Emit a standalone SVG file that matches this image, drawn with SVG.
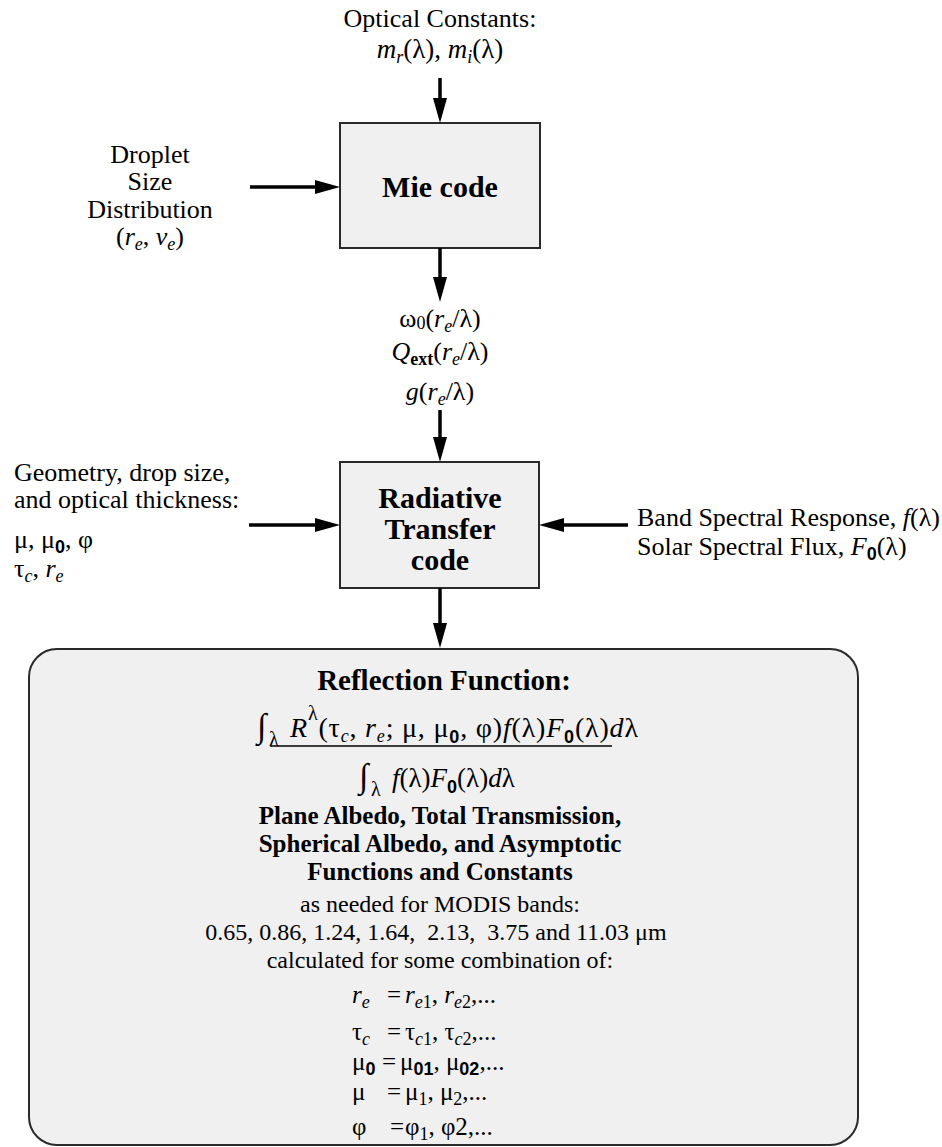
<svg xmlns="http://www.w3.org/2000/svg" width="942" height="1147" viewBox="0 0 942 1147">
<defs>
<style>
text{font-family:"Liberation Serif","Times New Roman",serif;fill:#000;font-size:26px}
.c{text-anchor:middle}
.b{font-weight:bold}
.i{font-style:italic}
.s{font-size:18px}
.sb{font-size:18px;font-weight:bold;font-family:"Liberation Sans",Arial,sans-serif}
.box{fill:#f0f0f0;stroke:#2a2a2a;stroke-width:2}
.conn line{stroke:#000;stroke-width:3.5;marker-end:url(#ah)}
</style>
<marker id="ah" markerUnits="userSpaceOnUse" markerWidth="26" markerHeight="16" refX="13" refY="7" orient="auto">
<path d="M0,0 L25,7 L0,14 z" fill="#000"/>
</marker>
</defs>
<rect width="942" height="1147" fill="#fff"/>

<g id="optical-constants">
<text class="c" x="440" y="27">Optical Constants:</text>
<text class="c" x="440" y="58" style="font-size:27px"><tspan class="i">m</tspan><tspan class="i s" dy="5">r</tspan><tspan dy="-5">(λ), </tspan><tspan class="i">m</tspan><tspan class="i s" dy="5">i</tspan><tspan dy="-5">(λ)</tspan></text>
</g>

<g id="droplet">
<text class="c" x="150" y="163">Droplet</text>
<text class="c" x="150" y="190">Size</text>
<text class="c" x="150" y="218">Distribution</text>
<text class="c" x="150" y="245">(<tspan class="i">r</tspan><tspan class="i s" dy="5">e</tspan><tspan dy="-5">, </tspan><tspan class="i">v</tspan><tspan class="i s" dy="5">e</tspan><tspan dy="-5">)</tspan></text>
</g>

<g id="mie">
<rect class="box" x="340" y="123" width="200" height="125"/>
<text class="c b" x="440" y="197" style="font-size:30px">Mie code</text>
</g>

<g id="mie-output">
<text class="c" x="440" y="327">ω<tspan class="s" dy="2">0</tspan><tspan dy="-2">(</tspan><tspan class="i">r</tspan><tspan class="i s" dy="5">e</tspan><tspan dy="-5">/λ)</tspan></text>
<text class="c" x="440" y="360"><tspan class="i">Q</tspan><tspan class="b s" dy="5">ext</tspan><tspan dy="-5">(</tspan><tspan class="i">r</tspan><tspan class="i s" dy="5">e</tspan><tspan dy="-5">/λ)</tspan></text>
<text class="c" x="440" y="400"><tspan class="i">g</tspan>(<tspan class="i">r</tspan><tspan class="i s" dy="5">e</tspan><tspan dy="-5">/λ)</tspan></text>
</g>

<g id="geometry">
<text x="14" y="481">Geometry, drop size,</text>
<text x="14" y="508">and optical thickness:</text>
<text x="14" y="548">μ, μ<tspan class="sb" dy="5">0</tspan><tspan dy="-5">, φ</tspan></text>
<text x="14" y="577">τ<tspan class="i s" dy="5">c</tspan><tspan dy="-5">, </tspan><tspan class="i">r</tspan><tspan class="i s" dy="5">e</tspan></text>
</g>

<g id="radiative-transfer">
<rect class="box" x="340" y="462" width="199" height="126"/>
<text class="c b" x="440" y="508" style="font-size:30px">Radiative</text>
<text class="c b" x="440" y="539" style="font-size:30px">Transfer</text>
<text class="c b" x="440" y="570" style="font-size:30px">code</text>
</g>

<g id="spectral">
<text x="637" y="526">Band Spectral Response, <tspan class="i">f</tspan>(λ)</text>
<text x="637" y="555">Solar Spectral Flux, <tspan class="i">F</tspan><tspan class="sb" dy="5">0</tspan><tspan dy="-5">(λ)</tspan></text>
</g>

<g id="results">
<rect class="box" x="29" y="649" width="829" height="496" rx="28" ry="28"/>
<text class="c b" x="444" y="690" style="font-size:29px">Reflection Function:</text>
<text x="257" y="737" style="font-size:34px">∫</text>
<text x="269" y="746" style="font-size:20px">λ</text>
<text x="290" y="737" style="font-size:28px" textLength="348" lengthAdjust="spacing"><tspan class="i">R</tspan><tspan style="font-size:20px" dy="-17">λ</tspan><tspan dy="17">(τ</tspan><tspan class="i s" dy="5">c</tspan><tspan dy="-5">, </tspan><tspan class="i">r</tspan><tspan class="i s" dy="5">e</tspan><tspan dy="-5">; μ, μ</tspan><tspan class="sb" dy="6">0</tspan><tspan dy="-6">, φ)</tspan><tspan class="i">f</tspan>(λ)<tspan class="i">F</tspan><tspan class="sb" dy="6">0</tspan><tspan dy="-6">(λ)</tspan><tspan class="i">d</tspan>λ</text>
<line x1="270" y1="746" x2="612" y2="746" stroke="#000" stroke-width="1.5"/>
<text x="359" y="787" style="font-size:34px">∫</text>
<text x="371" y="796" style="font-size:20px">λ</text>
<text x="392" y="787" style="font-size:27px"><tspan class="i">f</tspan>(λ)<tspan class="i">F</tspan><tspan class="sb" dy="6">0</tspan><tspan dy="-6">(λ)</tspan><tspan class="i">d</tspan>λ</text>
<text class="c b" x="440" y="824" style="font-size:25px">Plane Albedo, Total Transmission,</text>
<text class="c b" x="440" y="852" style="font-size:25px">Spherical Albedo, and Asymptotic</text>
<text class="c b" x="440" y="880" style="font-size:25px">Functions and Constants</text>
<text class="c" x="440" y="912" style="font-size:24px">as needed for MODIS bands:</text>
<text class="c" x="436" y="940" style="font-size:24px;white-space:pre">0.65, 0.86, 1.24, 1.64,  2.13,  3.75 and 11.03 μm</text>
<text class="c" x="440" y="968" style="font-size:24px">calculated for some combination of:</text>

<text x="352" y="1003" style="font-size:25px"><tspan class="i">r</tspan><tspan class="i s" dy="5">e</tspan></text>
<text x="387" y="1003" style="font-size:25px">=</text>
<text x="405" y="1003" style="font-size:25px"><tspan class="i">r</tspan><tspan class="i s" dy="5">e</tspan><tspan class="s">1</tspan><tspan dy="-5">, </tspan><tspan class="i">r</tspan><tspan class="i s" dy="5">e</tspan><tspan class="s">2</tspan><tspan dy="-5">,...</tspan></text>

<text x="352" y="1040" style="font-size:25px">τ<tspan class="i s" dy="5">c</tspan></text>
<text x="387" y="1040" style="font-size:25px">=</text>
<text x="405" y="1040" style="font-size:25px">τ<tspan class="i s" dy="5">c</tspan><tspan class="s">1</tspan><tspan dy="-5">, τ</tspan><tspan class="i s" dy="5">c</tspan><tspan class="s">2</tspan><tspan dy="-5">,...</tspan></text>

<text x="352" y="1070" style="font-size:25px">μ<tspan class="sb" dy="5">0</tspan></text>
<text x="382" y="1070" style="font-size:25px">=</text>
<text x="400" y="1070" style="font-size:25px">μ<tspan class="sb" dy="5">01</tspan><tspan dy="-5">, μ</tspan><tspan class="sb" dy="5">02</tspan><tspan dy="-5">,...</tspan></text>

<text x="352" y="1100" style="font-size:25px">μ</text>
<text x="387" y="1100" style="font-size:25px">=</text>
<text x="405" y="1100" style="font-size:25px">μ<tspan class="s" dy="5">1</tspan><tspan dy="-5">, μ</tspan><tspan class="s" dy="5">2</tspan><tspan dy="-5">,...</tspan></text>

<text x="352" y="1135" style="font-size:25px">φ</text>
<text x="390" y="1135" style="font-size:25px">=</text>
<text x="405" y="1135" style="font-size:25px">φ<tspan class="s" dy="5">1</tspan><tspan dy="-5">, φ2,...</tspan></text>
</g>

<g id="connectors" class="conn">
<line x1="440" y1="78" x2="440" y2="111"/>
<line x1="250" y1="187" x2="328" y2="187"/>
<line x1="440" y1="248" x2="440" y2="290"/>
<line x1="440" y1="410" x2="440" y2="450"/>
<line x1="249" y1="525" x2="328" y2="525"/>
<line x1="628" y1="525" x2="551" y2="525"/>
<line x1="440" y1="588" x2="440" y2="636"/>
</g>
</svg>
